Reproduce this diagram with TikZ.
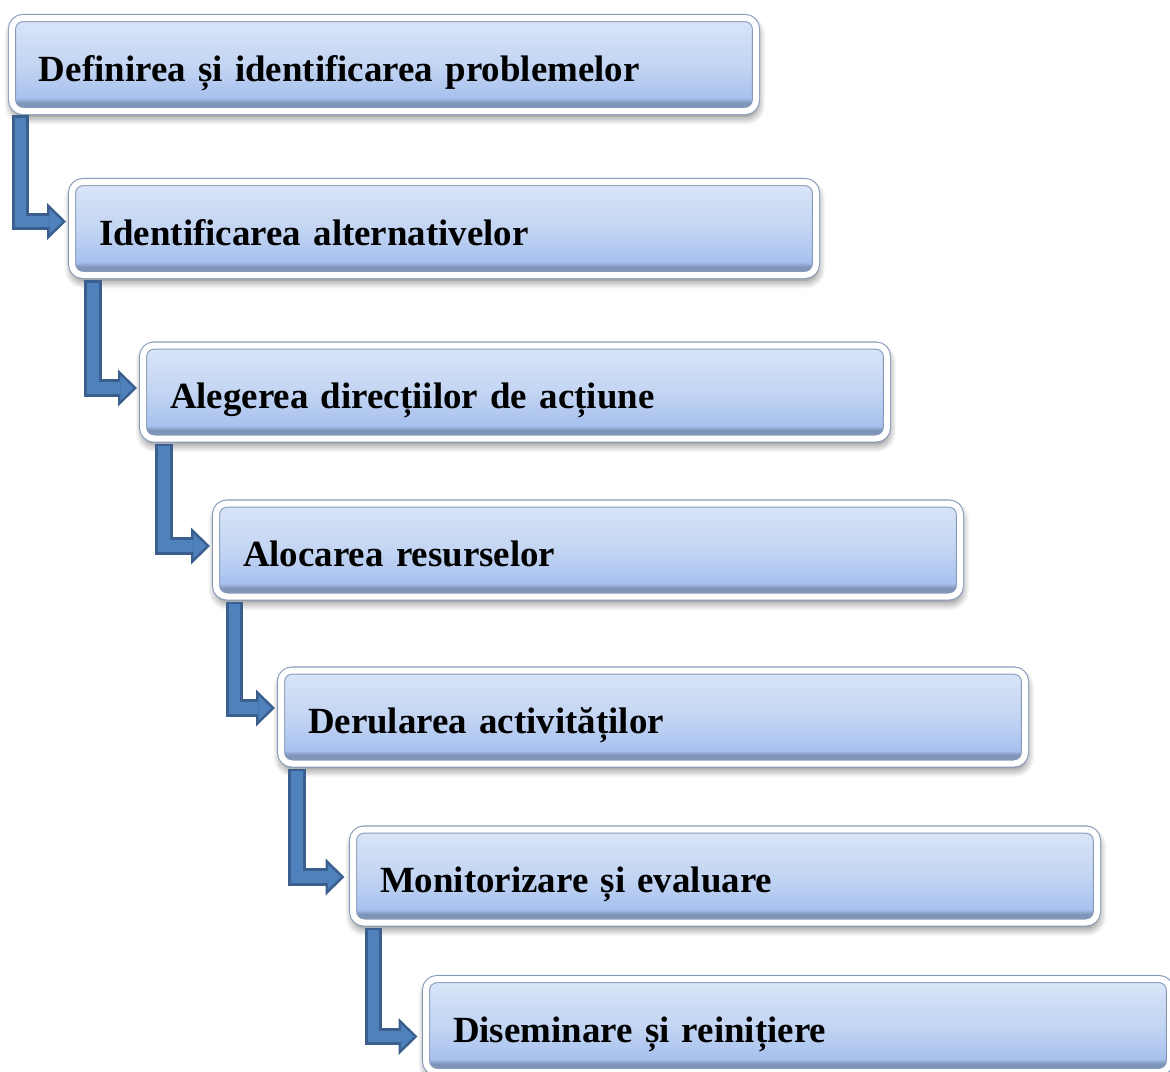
\documentclass[tikz,border=0pt]{standalone}
\usepackage{fontspec}
\setmainfont{Liberation Serif}
\usetikzlibrary{arrows.meta,shadows.blur}

\definecolor{boxtop}{HTML}{DAE5F7}
\definecolor{boxmid}{HTML}{C3D5F3}
\definecolor{boxbot}{HTML}{A7C1EE}
\definecolor{boxrim}{HTML}{7F94B9}
\definecolor{boxedge}{HTML}{8699BA}
\definecolor{flowdark}{HTML}{3A5F8E}
\definecolor{flowblue}{HTML}{4F81BD}
\pgfdeclareverticalshading{boxshade}{100bp}{color(0bp)=(boxrim); color(25bp)=(boxrim);
 color(29.5bp)=(boxrim); color(32bp)=(boxbot); color(50bp)=(boxmid);
 color(75bp)=(boxtop); color(100bp)=(boxtop)}

\begin{document}
\begin{tikzpicture}[stepbox/.style={rectangle,rounded corners=0.22cm,
  draw=boxedge,line width=0.6pt,double=white,double distance=0.12cm,
  shading=boxshade,
  blur shadow={shadow xshift=0.5pt,shadow yshift=-3pt,shadow blur radius=5pt,
   shadow blur steps=10,shadow opacity=60},
  text width=13.8cm,align=left,inner xsep=0.54cm,
  minimum height=1.86cm,outer sep=0pt,text height=0.8cm,text depth=0.14cm,
  font=\fontsize{21}{25}\selectfont\bfseries},
 flow/.style={draw=flowdark,line width=0.35cm,line join=miter,
  -{Triangle[length=0.38cm,width=0.74cm,line width=0pt]},
  postaction={draw=flowblue,line width=0.23cm,
   shorten <=0.05cm,shorten >=0.072cm,
   -{Triangle[length=0.26cm,width=0.50cm,line width=0pt]}}}]
 \useasboundingbox (0,0) rectangle (23.4,-21.44);
 \node[stepbox] (s1) at (7.68,-1.29) {Definirea și identificarea problemelor};
 \node[stepbox] (s2) at (8.88,-4.57) {Identificarea alternativelor};
 \node[stepbox] (s3) at (10.30,-7.84) {Alegerea direcțiilor de acțiune};
 \node[stepbox] (s4) at (11.76,-11.00) {Alocarea resurselor};
 \node[stepbox] (s5) at (13.06,-14.34) {Derularea activităților};
 \node[stepbox] (s6) at (14.50,-17.52) {Monitorizare și evaluare};
 \node[stepbox] (s7) at (15.96,-20.51) {Diseminare și reinițiere};
 \draw[flow] ([xshift=0.17cm,yshift=-0.08cm]s1.south west)
  |- ([xshift=-0.12cm,yshift=0.14cm]s2.west);
 \draw[flow] ([xshift=0.42cm,yshift=-0.1cm]s2.south west)
  |- ([xshift=-0.12cm,yshift=0.08cm]s3.west);
 \draw[flow] ([xshift=0.42cm,yshift=-0.1cm]s3.south west)
  |- ([xshift=-0.12cm,yshift=0.08cm]s4.west);
 \draw[flow] ([xshift=0.37cm,yshift=-0.1cm]s4.south west)
  |- ([xshift=-0.12cm,yshift=0.18cm]s5.west);
 \draw[flow] ([xshift=0.32cm,yshift=-0.1cm]s5.south west)
  |- ([xshift=-0.17cm,yshift=-0.02cm]s6.west);
 \draw[flow] ([xshift=0.41cm,yshift=-0.1cm]s6.south west)
  |- ([xshift=-0.17cm,yshift=-0.22cm]s7.west);
\end{tikzpicture}
\end{document}
